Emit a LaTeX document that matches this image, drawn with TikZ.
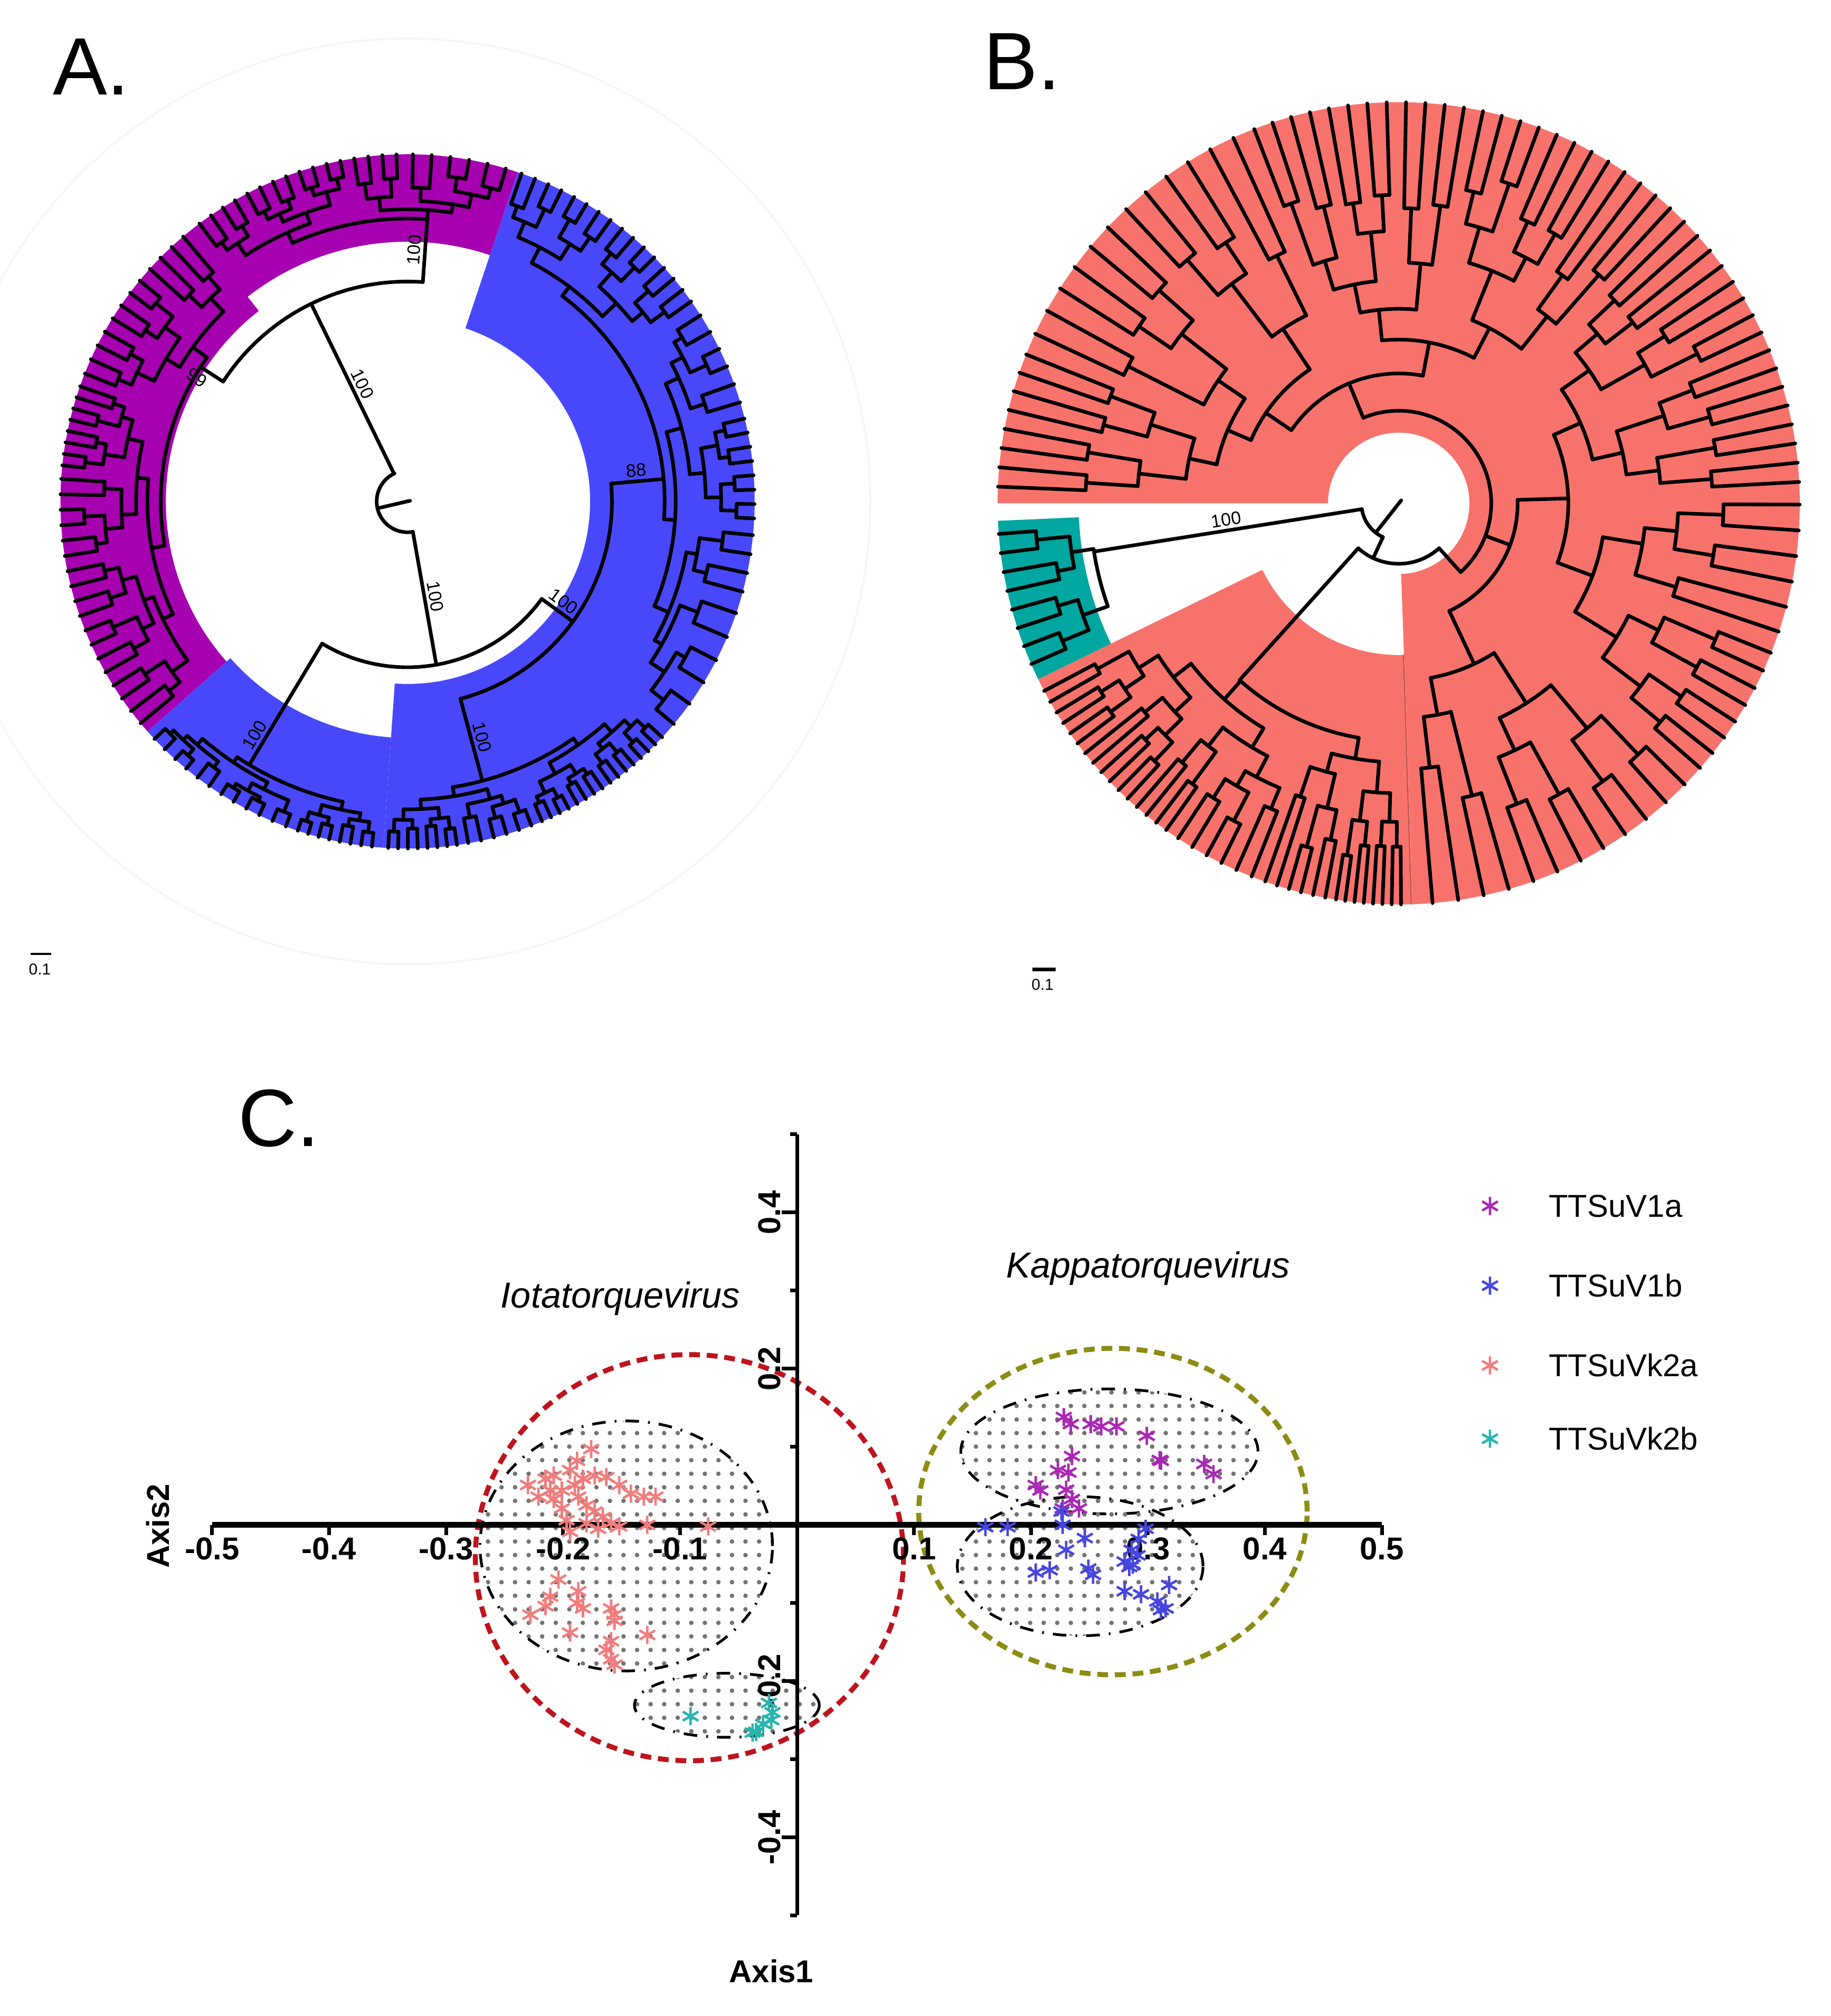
\documentclass[tikz,border=0pt]{standalone}
\usepackage{fontspec}
\setmainfont{Liberation Sans}
\usetikzlibrary{patterns,plotmarks}

\definecolor{treePurple}{RGB}{166,0,176}
\definecolor{treeBlue}{RGB}{72,72,250}
\definecolor{treeSalmon}{RGB}{248,114,108}
\definecolor{treeTeal}{RGB}{0,166,160}
\definecolor{ptPurple}{RGB}{170,40,180}
\definecolor{ptBlue}{RGB}{70,70,225}
\definecolor{ptPink}{RGB}{240,125,125}
\definecolor{ptTeal}{RGB}{40,180,175}
\definecolor{genusRed}{RGB}{190,20,30}
\definecolor{genusOlive}{RGB}{140,140,20}

% #1 from angle, #2 to angle, #3 radius, #4 depth, #5 parent angle
\newcommand\clade[5]{%
  \begingroup
  \ifnum#4>0 
    \pgfmathtruncatemacro\clDa{#4-1}%
    \pgfmathsetmacro\clCoin{rnd<0.4}%
    \pgfmathtruncatemacro\clDb{max(#4-1-\clCoin,0)}%
    \pgfmathsetmacro\clSw{rnd<0.5}%
    \ifdim\clSw pt>0.5pt \let\clTmp\clDa \let\clDa\clDb \let\clDb\clTmp \fi
    \pgfmathsetmacro\clFr{2^\clDa/(2^\clDa+2^\clDb)}%
  \else
    \def\clFr{0.5}%
  \fi
  \pgfmathsetmacro\clTm{#1+(#2-#1)*\clFr}%
  \pgfmathsetmacro\clCa{(#1+\clTm)/2}%
  \pgfmathsetmacro\clCb{(\clTm+#2)/2}%
  \pgfmathsetmacro\clLo{min(\clCa,#5)}%
  \pgfmathsetmacro\clHi{max(\clCb,#5)}%
  \draw (\clLo:#3) arc[start angle=\clLo, end angle=\clHi, radius=#3];
  \ifnum#4>0 
    \pgfmathsetmacro\clRa{#3+(\rout-#3)/(\clDa+2.3)*(0.55+0.6*rnd)}%
    \pgfmathsetmacro\clRb{#3+(\rout-#3)/(\clDb+2.3)*(0.55+0.6*rnd)}%
    \draw (\clCa:#3) -- (\clCa:\clRa) (\clCb:#3) -- (\clCb:\clRb);
    \edef\next{\noexpand\clade{#1}{\clTm}{\clRa}{\clDa}{\clCa}%
      \noexpand\clade{\clTm}{#2}{\clRb}{\clDb}{\clCb}}%
    \expandafter\endgroup\next
  \else
    \draw (\clCa:#3) -- (\clCa:\rout) (\clCb:#3) -- (\clCb:\rout);
    \endgroup
  \fi}

\begin{document}
\begin{tikzpicture}[
  treeline/.style={line width=0.8pt, line cap=round},
  bootval/.style={font=\fontsize{4}{4}\selectfont, inner sep=0.6pt},
  panellab/.style={font=\fontsize{18}{18}\selectfont},
  ticklab/.style={font=\bfseries\fontsize{7}{8}\selectfont, inner sep=0pt},
  cluster/.style={pattern=dots, pattern color=black!55, draw=black, dash dot, line width=0.6pt},
  genus/.style={line width=1.1pt, dash pattern=on 2.4pt off 1.5pt},
  pts/.style={only marks, mark=asterisk, mark size=2pt, color=#1, mark options={draw=#1, line width=0.55pt}},
  leglab/.style={font=\fontsize{7}{8}\selectfont, anchor=west, inner sep=0pt}
]
\useasboundingbox (0,0) rectangle (14.24,15.68);
\pgfmathsetseed{11}

\node[panellab] (labA) at (0.71,15.16) {A.};
\node[panellab] (labB) at (7.95,15.20) {B.};
\node[panellab] (labC) at (2.17,6.98) {C.};

\begin{scope}[shift={(3.17,11.78)}, treeline]
  \def\rout{2.70}
  \draw[black!3, line width=0.5pt] (0,0) circle (3.6);
  \fill[treePurple] (71.5:2.02) arc[start angle=71.5, end angle=128, radius=2.02] -- (128:1.88)
    arc[start angle=128, end angle=221.5, radius=1.88] -- (221.5:2.70)
    arc[start angle=221.5, end angle=71.5, radius=2.70] -- cycle;
  \fill[treeBlue] (71.5:1.42) arc[start angle=71.5, end angle=-94, radius=1.42] -- (-94:2.70)
    arc[start angle=-94, end angle=71.5, radius=2.70] -- cycle;
  \fill[treeBlue] (-94:1.84) arc[start angle=-94, end angle=-138.5, radius=1.84] -- (-138.5:2.70)
    arc[start angle=-138.5, end angle=-94, radius=2.70] -- cycle;
  \draw (115:0.24) arc[start angle=115, end angle=280, radius=0.24];
  \draw (193:0.22) -- (15:0.02);
  \draw (116:0.24) -- (116:1.71) node[bootval, midway, sloped, above] (bA1) {100};
  \draw (280:0.24) -- (280:1.29) node[bootval, midway, sloped, above] (bA2) {100};
  \draw (86:1.71) arc[start angle=86, end angle=147, radius=1.71];
  \draw (239:1.29) arc[start angle=239, end angle=324, radius=1.29];
  \draw (86:1.71) -- (86:2.20) node[bootval, midway, sloped, above] (bA3) {100};
  \clade{72}{128}{2.20}{4}{86}
  \draw (147:1.71) -- (147:1.92) node[bootval, pos=0.9, sloped, below] (bA4) {99};
  \clade{129}{221}{1.92}{5}{147}
  \draw (239:1.29) -- (239:2.39) node[bootval, pos=0.8, sloped, above] (bA5) {100};
  \clade{222}{265}{2.39}{4}{239}
  \draw (324:1.29) -- (324:1.59) node[bootval, midway, sloped, above] (bA6) {100};
  \draw (285:1.59) arc[start angle=285, end angle=365, radius=1.59];
  \draw (365:1.59) -- (365:2.00) node[bootval, midway, sloped, above] (bA7) {88};
  \clade{318}{432}{2.00}{5}{365}
  \draw (285:1.59) -- (285:2.25) node[bootval, midway, sloped, above] (bA8) {100};
  \clade{266}{318}{2.25}{4}{285}
\end{scope}

\begin{scope}[shift={(10.88,11.765)}, treeline]
  \def\rout{3.12}
  \fill[treeSalmon] (-88:0.55) arc[start angle=-88, end angle=180, radius=0.55] -- (180:3.12)
    arc[start angle=180, end angle=-88, radius=3.12] -- cycle;
  \fill[treeSalmon] (206:1.18) arc[start angle=206, end angle=272, radius=1.18] -- (272:3.12)
    arc[start angle=272, end angle=206, radius=3.12] -- cycle;
  \fill[treeTeal] (182.5:2.49) arc[start angle=182.5, end angle=206, radius=2.49] -- (206:3.12)
    arc[start angle=206, end angle=182.5, radius=3.12] -- cycle;
  \draw[treeSalmon!70!black, line width=0.2pt] (271.8:1.18) -- (271.8:3.12);
  \draw (50:0.03) -- (232:0.28);
  \draw (189:0.29) arc[start angle=189, end angle=245, radius=0.29];
  \draw (189:0.29) -- (189:2.40) node[bootval, midway, sloped, above] (bB1) {100};
  \clade{183}{205}{2.40}{2}{189}
  \draw (245:0.29) -- (245:0.47);
  \draw (228:0.47) arc[start angle=228, end angle=312, radius=0.47];
  \draw (228:0.47) -- (228:1.85);
  \clade{207}{271}{1.85}{5}{228}
  \draw (312:0.47) -- (312:0.72);
  \clade{273}{539}{0.72}{6}{312}
\end{scope}

\draw[line width=0.4pt] (0.24,8.26) -- (0.40,8.26);
\node[font=\fontsize{3.5}{4}\selectfont] (barA) at (0.31,8.14) {0.1};
\draw[line width=0.9pt] (8.03,8.14) -- (8.21,8.14);
\node[font=\fontsize{3.5}{4}\selectfont] (barB) at (8.11,8.02) {0.1};

\begin{scope}[shift={(6.20,3.82)}, x=9.1cm, y=6.075cm]
  \filldraw[cluster] (-0.146,-0.027) ellipse [x radius=0.125, y radius=0.160];
  \filldraw[cluster] (-0.060,-0.231) ellipse [x radius=0.079, y radius=0.041];
  \filldraw[cluster] (0.267,0.094) ellipse [x radius=0.127, y radius=0.080];
  \filldraw[cluster] (0.242,-0.053) ellipse [x radius=0.105, y radius=0.089];
  \draw[genus, genusRed] (-0.092,-0.042) ellipse [x radius=0.183, y radius=0.260];
  \draw[genus, genusOlive] (0.270,0.017) ellipse [x radius=0.166, y radius=0.209];
  \draw[line width=1.2pt] (-0.5,0) -- (0.5,0);
  \draw[line width=0.8pt] (0,-0.5) -- (0,0.5);
  \foreach \v [count=\i] in {-0.5,-0.4,-0.3,-0.2,-0.1,0.1,0.2,0.3,0.4,0.5} {
    \draw[line width=0.8pt] (\v,0) -- ++(0,-0.08cm);
    \node[ticklab, anchor=north] (xt\i) at ([yshift=-0.09cm]\v,0) {\v};
    \draw[line width=0.8pt] (0,\v) -- ++(-0.055cm,0);
  }
  \foreach \v [count=\i] in {-0.4,-0.2,0.2,0.4} {
    \draw[line width=0.8pt] (0,\v) -- ++(-0.12cm,0);
    \node[ticklab, rotate=90, anchor=south] (yt\i) at ([xshift=-0.12cm]0,\v) {\v};
  }
  \draw[pts=ptPink] plot coordinates {(-0.176,0.097) (-0.188,0.082) (-0.194,0.070) (-0.208,0.063)
    (-0.215,0.059) (-0.230,0.051) (-0.221,0.036) (-0.211,0.044) (-0.201,0.044) (-0.190,0.051)
    (-0.183,0.059) (-0.173,0.063) (-0.163,0.061) (-0.152,0.051) (-0.142,0.040) (-0.131,0.036)
    (-0.121,0.036) (-0.187,0.036) (-0.180,0.025) (-0.173,0.017) (-0.166,0.010) (-0.159,0.002)
    (-0.152,-0.002) (-0.170,-0.005) (-0.180,0.002) (-0.194,-0.009) (-0.128,0.0) (-0.076,-0.002)
    (-0.204,-0.070) (-0.211,-0.092) (-0.215,-0.104) (-0.228,-0.115) (-0.187,-0.085) (-0.188,-0.100)
    (-0.183,-0.107) (-0.159,-0.107) (-0.156,-0.115) (-0.156,-0.123) (-0.194,-0.138) (-0.128,-0.141)
    (-0.159,-0.149) (-0.163,-0.160) (-0.159,-0.172) (-0.156,-0.179) (-0.201,0.021) (-0.197,0.006)
    (-0.208,0.033)};
  \draw[pts=ptTeal] plot coordinates {(-0.091,-0.245) (-0.024,-0.228) (-0.021,-0.240) (-0.022,-0.250)
    (-0.029,-0.255) (-0.035,-0.265) (-0.038,-0.266)};
  \draw[pts=ptPurple] plot coordinates {(0.228,0.138) (0.234,0.129) (0.251,0.129) (0.260,0.126)
    (0.273,0.126) (0.299,0.114) (0.310,0.083) (0.311,0.082) (0.348,0.078) (0.356,0.065) (0.235,0.088)
    (0.223,0.070) (0.232,0.067) (0.204,0.051) (0.208,0.044) (0.230,0.045) (0.235,0.033) (0.241,0.021)
    (0.227,0.021)};
  \draw[pts=ptBlue] plot coordinates {(0.161,-0.003) (0.180,-0.003) (0.227,0.0) (0.226,0.017)
    (0.230,-0.032) (0.246,-0.017) (0.249,-0.056) (0.253,-0.064) (0.204,-0.061) (0.216,-0.058)
    (0.280,-0.047) (0.287,-0.051) (0.292,-0.018) (0.298,-0.005) (0.286,-0.032) (0.280,-0.085)
    (0.294,-0.089) (0.308,-0.098) (0.315,-0.107) (0.318,-0.077) (0.311,-0.109) (0.284,-0.054)
    (0.291,-0.039)};
  \node[font=\itshape\fontsize{8}{9}\selectfont] (iota) at (-0.151,0.290) {Iotatorquevirus};
  \node[font=\itshape\fontsize{8}{9}\selectfont] (kappa) at (0.300,0.328) {Kappatorquevirus};
\end{scope}

\node[font=\bfseries\fontsize{7}{8}\selectfont] (ax1) at (6.00,0.35) {Axis1};
\node[font=\bfseries\fontsize{7}{8}\selectfont, rotate=90] (ax2) at (1.23,3.81) {Axis2};

\draw[pts=ptPurple] plot coordinates {(11.59,6.30)};
\draw[pts=ptBlue] plot coordinates {(11.59,5.68)};
\draw[pts=ptPink] plot coordinates {(11.59,5.06)};
\draw[pts=ptTeal] plot coordinates {(11.59,4.49)};
\node[leglab] (leg1) at (12.04,6.30) {TTSuV1a};
\node[leglab] (leg2) at (12.04,5.68) {TTSuV1b};
\node[leglab] (leg3) at (12.04,5.06) {TTSuVk2a};
\node[leglab] (leg4) at (12.04,4.49) {TTSuVk2b};
\end{tikzpicture}
\end{document}
